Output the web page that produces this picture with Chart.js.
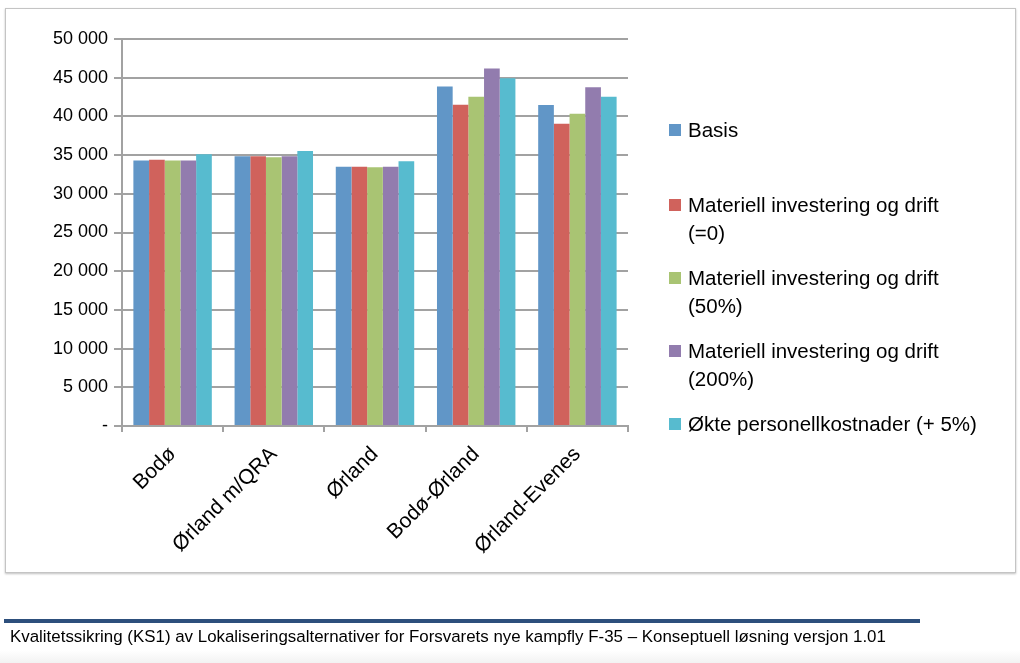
<!DOCTYPE html>
<html>
<head>
<meta charset="utf-8">
<script src="https://cdn.jsdelivr.net/npm/chart.js@4"></script>
<style>
  html, body { margin:0; padding:0; width:1020px; height:663px; background:#fff; overflow:hidden; }
  #wrap { position:absolute; left:0; top:0; width:1020px; height:663px; }
  #frame { position:absolute; left:5px; top:8px; width:1009px; height:563px; border:1px solid #c4c4c4; box-shadow:0 1px 2px rgba(0,0,0,0.25); background:#fff; }
  canvas { position:absolute; left:0; top:0; }
  #legend { position:absolute; left:669px; top:0; font-family:"Liberation Sans",sans-serif; font-size:20.5px; color:#000; }
  .li { position:absolute; left:0; white-space:nowrap; line-height:28px; }
  .sw { position:absolute; left:0; width:12px; height:12px; }
  .tx { position:absolute; left:19px; }
  #bar { position:absolute; left:4px; top:619px; width:916px; height:4px; background:#2d4f7c; }
  #foot { position:absolute; left:10px; top:627px; font-family:"Liberation Sans",sans-serif; font-size:16.9px; color:#000; white-space:nowrap; }
  #bottom { position:absolute; left:0; top:650px; width:1020px; height:13px; background:linear-gradient(#fff,#f2f2f2); }
</style>
</head>
<body>
<div id="wrap">
  <div id="frame"></div>
  <canvas id="c" width="1020" height="663"></canvas>
  <div id="legend"></div>
  <div id="bar"></div>
  <div id="foot">Kvalitetssikring (KS1) av Lokaliseringsalternativer for Forsvarets nye kampfly F-35 – Konseptuell løsning versjon 1.01</div>
  <div id="bottom"></div>
</div>
<script>
const categories = ["Bodø", "Ørland m/QRA", "Ørland", "Bodø-Ørland", "Ørland-Evenes"];
const seriesNames = [
  "Basis",
  "Materiell investering og drift (=0)",
  "Materiell investering og drift (50%)",
  "Materiell investering og drift (200%)",
  "Økte personellkostnader (+ 5%)"
];
const legendLines = [
  ["Basis"],
  ["Materiell investering og drift", "(=0)"],
  ["Materiell investering og drift", "(50%)"],
  ["Materiell investering og drift", "(200%)"],
  ["Økte personellkostnader (+ 5%)"]
];
const basis        = [34300, 34850, 33500, 43850, 41480];
const materiell0   = [34400, 34850, 33500, 41520, 39050];
const materiell50  = [34300, 34720, 33420, 42550, 40350];
const materiell200 = [34300, 34850, 33500, 46180, 43770];
const personell5   = [35100, 35530, 34200, 44920, 42550];
const yTicks = [0, 5000, 10000, 15000, 20000, 25000, 30000, 35000, 40000, 45000, 50000];
const colors = ["#6196c7", "#d0625c", "#a9c473", "#927cae", "#57bbcf"];
const allSeries = [basis, materiell0, materiell50, materiell200, personell5];

const FONT = "'Liberation Sans',sans-serif";

function fmt(v) {
  if (v === 0) return "-";
  return String(v).replace(/\B(?=(\d{3})+(?!\d))/g, " ");
}

new Chart(document.getElementById("c"), {
  type: "bar",
  data: {
    labels: categories,
    datasets: allSeries.map((d, i) => ({
      label: seriesNames[i],
      data: d,
      backgroundColor: colors[i],
      borderWidth: 0,
      categoryPercentage: 0.775,
      barPercentage: 1.0
    }))
  },
  options: {
    responsive: false,
    animation: false,
    devicePixelRatio: 1,
    layout: { padding: { left: 0, right: 392, top: 39, bottom: 87 } },
    plugins: { legend: { display: false }, tooltip: { enabled: false } },
    scales: {
      y: {
        min: 0, max: 50000,
        afterFit: s => { s.width = 122; },
        afterBuildTicks: s => { s.ticks = yTicks.map(v => ({ value: v })); },
        ticks: { color: "#000", font: { family: FONT, size: 18 }, padding: 6, callback: v => fmt(v) },
        grid: { color: "#a2a2a2", lineWidth: 2, tickLength: 8, drawTicks: true },
        border: { color: "#a2a2a2", width: 2 }
      },
      x: {
        afterFit: s => { s.height = 150; },
        ticks: { color: "#000", font: { family: FONT, size: 21 }, minRotation: 45, maxRotation: 45, padding: 10 },
        grid: { display: true, drawOnChartArea: false, offset: true, color: "#a2a2a2", lineWidth: 2, tickLength: 6 },
        border: { color: "#a2a2a2", width: 2 }
      }
    }
  }
});

const lg = document.getElementById("legend");
const tops = [116, 191, 264, 337, 410];
legendLines.forEach((lines, i) => {
  const d = document.createElement("div");
  d.className = "li";
  d.style.top = tops[i] + "px";
  const sw = document.createElement("div");
  sw.className = "sw";
  sw.style.top = "8px";
  sw.style.background = colors[i];
  const tx = document.createElement("div");
  tx.className = "tx";
  tx.innerHTML = lines.join("<br>");
  d.appendChild(sw); d.appendChild(tx);
  lg.appendChild(d);
});
</script>
</body>
</html>
